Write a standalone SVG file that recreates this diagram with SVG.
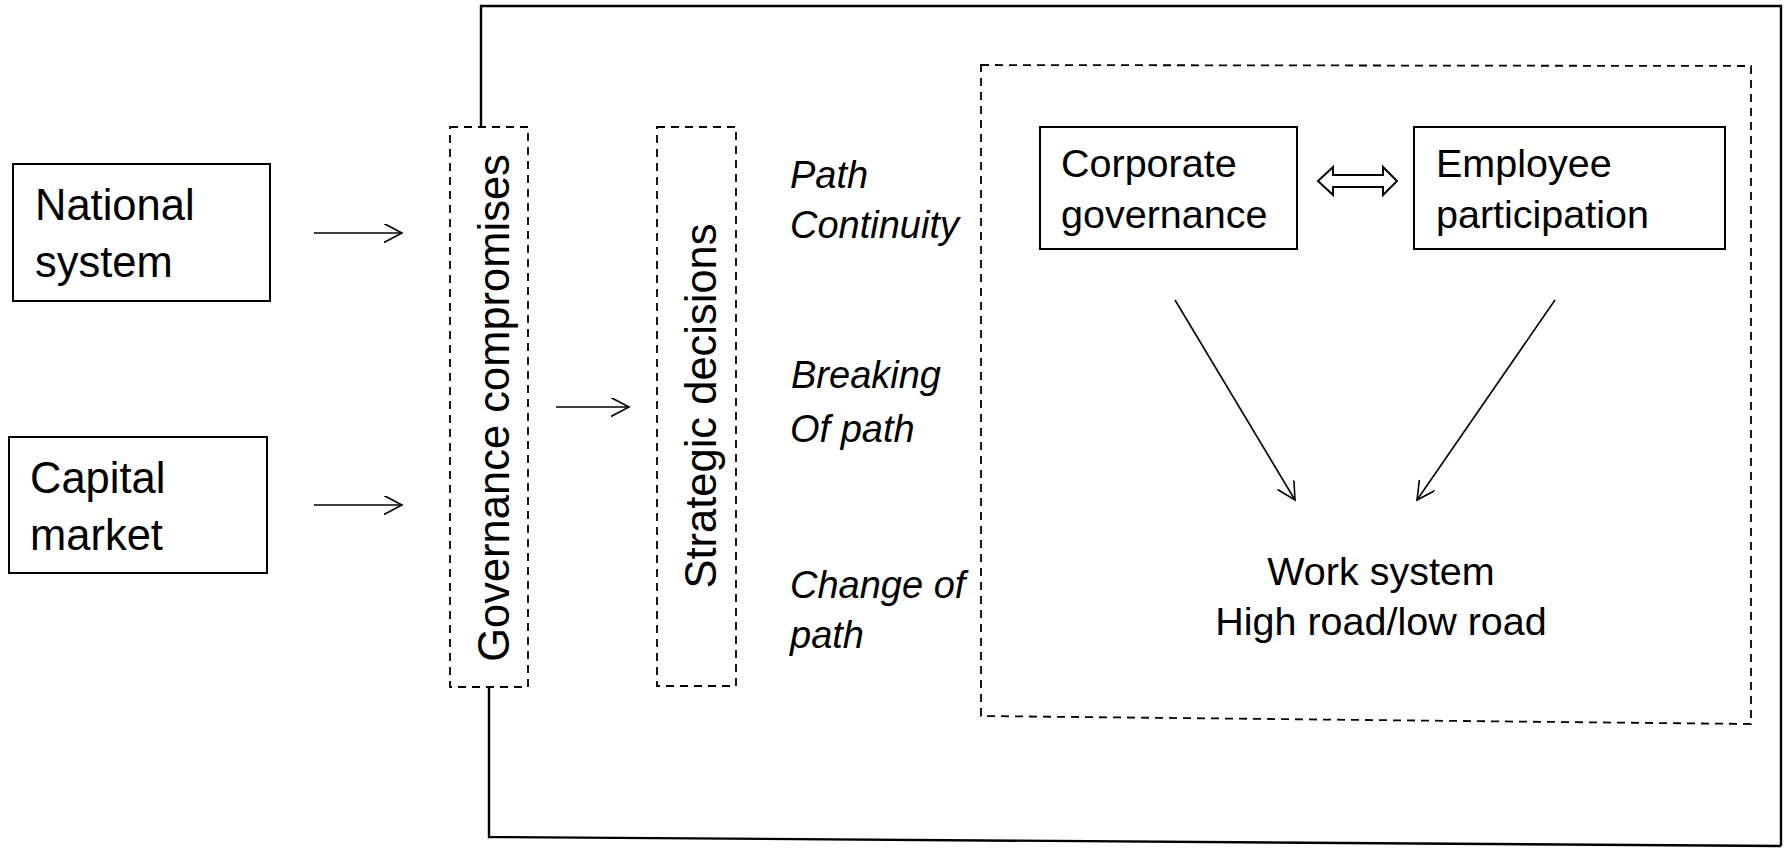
<svg xmlns="http://www.w3.org/2000/svg" width="1784" height="849" viewBox="0 0 1784 849">
  <style>
    .box { fill: #ffffff; stroke: #000000; stroke-width: 2; }
    .dash { fill: none; stroke: #000000; stroke-width: 1.8; stroke-dasharray: 8 6; }
    .frame { fill: none; stroke: #000000; stroke-width: 2.4; }
    .arrow { fill: none; stroke: #000000; stroke-width: 1.6; marker-end: url(#vhead); }
    .lbl { font-family: "Liberation Sans", Arial, sans-serif; fill: #000000; }
    .big { font-size: 43.5px; }
    .mid { font-size: 39.5px; }
    .ital { font-size: 38px; font-style: italic; }
  </style>
  <defs>
    <marker id="vhead" markerWidth="20" markerHeight="20" refX="18" refY="9.5" orient="auto" markerUnits="userSpaceOnUse">
      <path d="M0,0 L18,9.5 L0,19" fill="none" stroke="#000000" stroke-width="1.6"/>
    </marker>
  </defs>
  <rect width="1784" height="849" fill="#ffffff"/>

  <!-- feedback frame and connectors -->
  <g id="connectors">
    <path class="frame" d="M481,127 V6 H1781 V846"/>
    <path class="frame" d="M1781,846 L489,837 V687"/>
    <line class="arrow" x1="314" y1="233" x2="402" y2="233"/>
    <line class="arrow" x1="314" y1="505" x2="402" y2="505"/>
    <line class="arrow" x1="556" y1="407" x2="629" y2="407"/>
    <line class="arrow" x1="1175" y1="300" x2="1295" y2="500"/>
    <line class="arrow" x1="1555" y1="300" x2="1417" y2="500"/>
    <path d="M1318,181 L1333,167 V175 H1383 V167 L1397,181 L1383,195 V187 H1333 V195 Z" fill="#ffffff" stroke="#000000" stroke-width="2" stroke-linejoin="miter"/>
  </g>

  <g id="national-system">
    <rect class="box" x="13" y="164" width="257" height="137"/>
    <text class="lbl big" x="35" y="220">National</text>
    <text class="lbl big" x="35" y="277">system</text>
  </g>

  <g id="capital-market">
    <rect class="box" x="9" y="437" width="258" height="136"/>
    <text class="lbl big" x="30" y="493">Capital</text>
    <text class="lbl big" x="30" y="550">market</text>
  </g>

  <g id="governance-compromises">
    <rect class="dash" x="450" y="127" width="78" height="560"/>
    <text class="lbl big" text-anchor="middle" transform="translate(509,408) rotate(-90)">Governance compromises</text>
  </g>

  <g id="strategic-decisions">
    <rect class="dash" x="657" y="127" width="79" height="559"/>
    <text class="lbl big" text-anchor="middle" transform="translate(716,406) rotate(-90)">Strategic decisions</text>
  </g>

  <g id="path-options">
    <text class="lbl ital" x="790" y="188">Path</text>
    <text class="lbl ital" x="790" y="238">Continuity</text>
    <text class="lbl ital" x="791" y="388">Breaking</text>
    <text class="lbl ital" x="790" y="442">Of path</text>
    <text class="lbl ital" x="790" y="598">Change of</text>
    <text class="lbl ital" x="790" y="648">path</text>
  </g>

  <g id="firm-level">
    <path class="dash" d="M981,65 L1751,66 L1751,724 L981,716 Z"/>
  </g>

  <g id="corporate-governance">
    <rect class="box" x="1040" y="127" width="257" height="122"/>
    <text class="lbl mid" x="1061" y="177">Corporate</text>
    <text class="lbl mid" x="1061" y="228">governance</text>
  </g>

  <g id="employee-participation">
    <rect class="box" x="1414" y="127" width="311" height="122"/>
    <text class="lbl mid" x="1436" y="177">Employee</text>
    <text class="lbl mid" x="1436" y="228">participation</text>
  </g>

  <g id="work-system">
    <text class="lbl mid" text-anchor="middle" x="1381" y="585">Work system</text>
    <text class="lbl mid" text-anchor="middle" x="1381" y="635">High road/low road</text>
  </g>
</svg>
